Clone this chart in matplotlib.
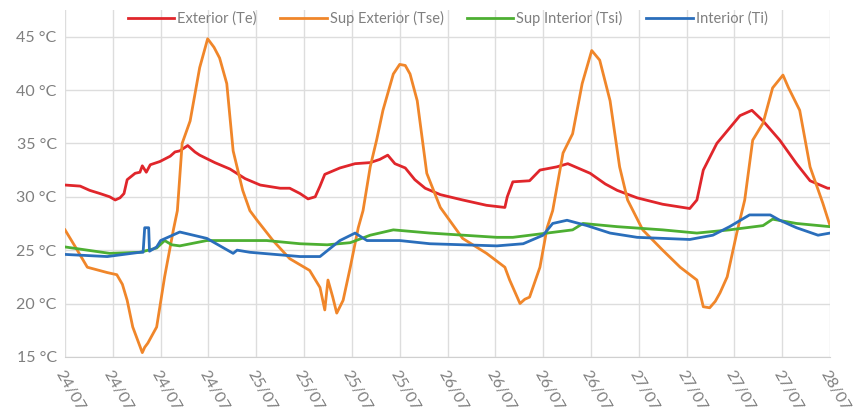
import numpy as np
import matplotlib
matplotlib.use('Agg')
import matplotlib.pyplot as plt

plt.rcParams['font.family'] = ['Lato', 'DejaVu Sans']

# hours since 24/07 00:00
te_h = [0.0, 1.9, 3.1, 4.4, 5.6, 6.3, 6.9, 7.4, 7.8, 8.8, 9.4, 9.7, 10.2, 10.7, 11.9, 13.2, 13.8,
        14.4, 15.4, 16.3, 16.9, 18.8, 20.7, 22.6, 24.5, 27.0, 28.2, 29.5, 30.5, 31.4, 32.0, 32.6,
        34.5, 36.4, 38.3, 39.5, 40.5, 41.4, 42.7, 43.9, 45.2, 47.1, 49.9, 52.9, 55.2, 55.5, 56.2,
        58.3, 59.6, 61.7, 63.1, 65.9, 67.8, 69.3, 71.8, 75.0, 78.4, 79.3, 80.1, 81.8, 84.7, 86.2,
        87.6, 89.7, 91.8, 93.5, 95.7, 96.0]
te = [31.1, 31.0, 30.6, 30.3, 30.0, 29.7, 29.9, 30.3, 31.6, 32.2, 32.3, 32.9, 32.3, 33.0, 33.3, 33.8, 34.2,
      34.3, 34.8, 34.2, 33.9, 33.2, 32.6, 31.7, 31.1, 30.8, 30.8, 30.3, 29.8, 30.0, 31.0, 32.1,
      32.7, 33.1, 33.2, 33.5, 33.9, 33.1, 32.7, 31.6, 30.8, 30.2, 29.7, 29.2, 29.0, 30.0, 31.4,
      31.5, 32.5, 32.8, 33.1, 32.2, 31.2, 30.6, 29.9, 29.3, 28.9, 29.7, 32.5, 35.0, 37.6, 38.1,
      37.1, 35.3, 33.1, 31.5, 30.8, 30.8]

tse_h = [0.0, 1.3, 2.8, 5.3, 6.5, 7.2, 7.8, 8.5, 9.7, 10.0, 10.4, 11.5, 12.5, 13.6, 14.1, 14.7, 15.7,
         16.9, 17.9, 18.7, 19.4, 20.3, 21.1, 22.3, 23.2, 24.1, 26.1, 28.2, 30.7, 32.0, 32.6, 33.0,
         33.6, 34.1, 34.9, 35.8, 36.8, 37.4, 38.3, 39.1, 39.9, 41.2, 42.0, 42.7, 43.3, 44.2, 45.4,
         47.1, 49.9, 52.9, 55.2, 55.8, 57.1, 57.7, 58.3, 59.6, 60.5, 61.2, 62.5, 63.7, 64.9, 66.1,
         67.1, 68.4, 69.6, 70.6, 72.5, 75.0, 77.2, 79.3, 80.1, 80.9, 81.6, 82.2, 83.1, 84.3, 85.3,
         86.3, 87.6, 88.8, 90.1, 90.8, 92.2, 93.5, 95.1, 96.0]
tse = [26.9, 25.3, 23.4, 22.9, 22.7, 21.8, 20.3, 17.8, 15.4, 15.9, 16.3, 17.8, 22.5, 26.9, 28.7, 35.0, 37.1,
       42.1, 44.8, 44.0, 43.0, 40.6, 34.3, 30.6, 28.7, 27.8, 25.9, 24.2, 23.1, 21.5, 19.4, 22.2,
       20.6, 19.1, 20.3, 23.4, 27.1, 28.7, 32.8, 35.3, 38.1, 41.5, 42.4, 42.3, 41.5, 39.0, 32.2,
       29.0, 26.1, 24.7, 23.4, 22.2, 20.0, 20.4, 20.6, 23.4, 27.1, 28.7, 34.1, 35.9, 40.6, 43.7,
       42.8, 39.0, 32.8, 29.7, 26.9, 25.0, 23.4, 22.2, 19.7, 19.6, 20.2, 21.0, 22.5, 26.6, 29.7,
       35.3, 36.9, 40.2, 41.4, 40.2, 38.1, 32.8, 29.4, 27.3]

tsi_h = [0.0, 5.6, 9.4, 11.5, 12.5, 13.4, 14.4, 17.8, 25.3, 29.5, 32.9, 35.8, 38.3, 41.2, 45.8,
         54.2, 56.2, 60.5, 63.7, 65.0, 69.3, 75.0, 79.3, 83.4, 87.6, 88.8, 91.8, 96.0]
tsi = [25.3, 24.7, 24.8, 25.2, 25.9, 25.5, 25.4, 25.9, 25.9, 25.6, 25.5, 25.7, 26.4, 26.9, 26.6,
       26.2, 26.2, 26.6, 26.9, 27.5, 27.2, 26.9, 26.6, 26.9, 27.3, 27.9, 27.5, 27.2]

ti_h = [0.0, 5.3, 9.4, 9.8, 10.0, 10.5, 10.6, 11.5, 12.0, 14.4, 17.8, 21.1, 21.6, 23.2, 29.5, 32.0,
        34.5, 36.4, 37.9, 42.0, 45.8, 54.2, 57.5, 60.0, 61.2, 63.0, 65.5, 68.4, 71.8, 78.4, 81.3,
        83.4, 85.9, 88.5, 89.7, 91.8, 94.5, 96.0]
ti = [24.6, 24.4, 24.8, 24.8, 27.1, 27.1, 24.9, 25.3, 25.9, 26.7, 26.1, 24.7, 25.0, 24.8, 24.4, 24.4,
      25.9, 26.6, 25.9, 25.9, 25.6, 25.4, 25.6, 26.4, 27.5, 27.8, 27.3, 26.6, 26.2, 26.0, 26.4,
      27.2, 28.3, 28.3, 27.8, 27.1, 26.4, 26.6]

tick_labels = ['24/07'] * 4 + ['25/07'] * 4 + ['26/07'] * 4 + ['27/07'] * 4 + ['28/07']
y_ticks = [15, 20, 25, 30, 35, 40, 45]

fig = plt.figure(figsize=(8.6, 4.15), dpi=100)
ax = fig.add_axes([0.0756, 0.14, 0.8895, 0.836])

ax.plot(te_h, te, color='#E0262B', lw=2.0, label='Exterior (Te)')
ax.plot(tse_h, tse, color='#F0862A', lw=2.0, label='Sup Exterior (Tse)')
ax.plot(tsi_h, tsi, color='#4DAF32', lw=2.0, label='Sup Interior (Tsi)')
ax.plot(ti_h, ti, color='#2A6EBB', lw=2.0, label='Interior (Ti)')

ax.set_xlim(0, 96)
ax.set_ylim(15, 47.5)
ax.set_xticks(np.arange(0, 97, 6))
ax.set_xticklabels(tick_labels, rotation=-60, ha='left', va='top', rotation_mode='anchor')
ax.set_yticks(y_ticks)
ax.set_yticklabels([f'{v} °C' for v in y_ticks])
ax.tick_params(axis='both', length=0, colors='#7F7F7F', labelsize=11.5)
ax.tick_params(axis='x', pad=8)
ax.tick_params(axis='y', pad=6)

ax.grid(True, color='#DDDDDD', lw=1.0)
ax.set_axisbelow(True)
for s in ['top', 'right', 'left']:
    ax.spines[s].set_visible(False)
ax.spines['bottom'].set_color('#D0D0D0')

leg = ax.legend(loc='upper center', bbox_to_anchor=(0.5, 1.035), ncol=4, frameon=False,
                fontsize=10.5, handlelength=3.2, handletextpad=0.2, columnspacing=1.6)
for t in leg.get_texts():
    t.set_color('#7F7F7F')

fig.savefig('out.png', dpi=100)
